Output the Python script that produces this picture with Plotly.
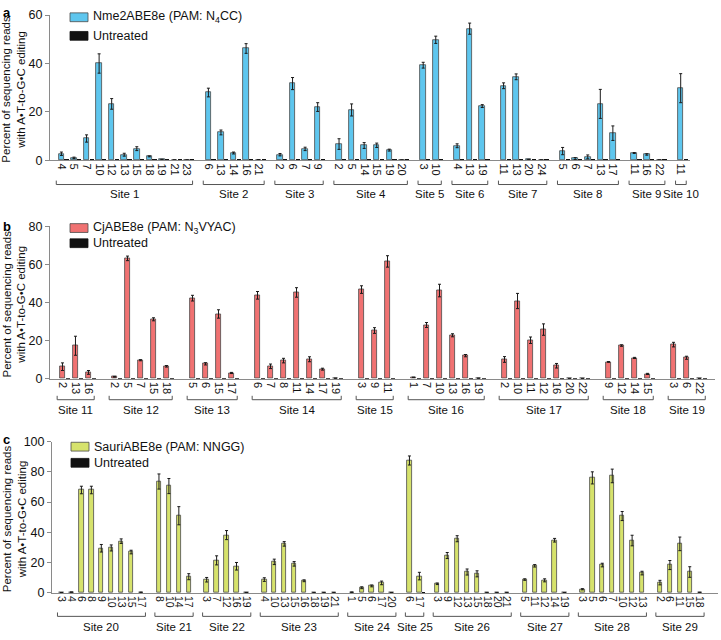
import plotly.graph_objects as go

# ---------------- panel a : Nme2ABE8e ----------------
a_sites = ["Site 1", "Site 2", "Site 3", "Site 4", "Site 5", "Site 6", "Site 7", "Site 8", "Site 9", "Site 10"]
a_pos = [[4, 5, 7, 10, 12, 13, 15, 18, 19, 21, 23], [6, 13, 14, 16, 21], [2, 6, 7, 9],
         [2, 5, 14, 15, 19, 20], [3, 10], [4, 13, 19], [11, 13, 20, 24], [5, 6, 7, 13, 17],
         [11, 16, 22], [11]]
a_edit = [[2.7, 1.0, 9.0, 40.0, 23.3, 2.3, 4.8, 1.6, 0.3, 0.1, 0.1], [28.0, 11.5, 3.0, 46.2, 0.2],
          [2.3, 31.7, 4.7, 22.0], [6.7, 20.8, 6.1, 6.2, 4.2, 0.1], [39.3, 49.8], [6.0, 54.4, 22.4],
          [30.8, 34.5, 0.3, 0.1], [3.8, 0.7, 1.4, 23.3, 11.2], [3.0, 2.4, 0.1], [29.8]]
a_err = [[0.7, 0.3, 1.5, 4.0, 2.2, 0.6, 0.8, 0.2, 0.1, 0.0, 0.0], [1.8, 1.0, 0.4, 2.0, 0.05],
         [0.5, 2.5, 0.7, 1.8], [2.2, 2.5, 1.2, 0.9, 0.4, 0.0], [1.2, 1.5], [0.8, 2.3, 0.6],
         [1.2, 1.2, 0.1, 0.0], [1.5, 0.4, 0.8, 6.0, 3.0], [0.2, 0.3, 0.0], [6.0]]
a_untr = [[0.1, 0.1, 0.1, 0.1, 0.1, 0.1, 0.1, 0.1, 0.1, 0.1, 0.1], [0.1, 0.1, 0.1, 0.1, 0.1],
          [0.1, 0.1, 0.1, 0.1], [0.1, 0.1, 0.1, 0.1, 0.1, 0.1], [0.1, 0.1], [0.6, 0.1, 0.1],
          [0.1, 0.1, 0.1, 0.1], [0.1, 0.1, 0.1, 0.1, 0.1], [0.1, 0.1, 0.1], [0.1]]

# ---------------- panel b : CjABE8e ----------------
b_sites = ["Site 11", "Site 12", "Site 13", "Site 14", "Site 15", "Site 16", "Site 17", "Site 18", "Site 19"]
b_pos = [[2, 13, 16], [2, 5, 7, 15, 18], [5, 6, 15, 17], [6, 7, 8, 11, 14, 17, 19], [3, 9, 11],
         [1, 7, 10, 13, 16, 19], [2, 10, 11, 12, 16, 20, 22], [9, 12, 14, 15], [3, 6, 22]]
b_edit = [[6.3, 17.3, 3.3], [1.0, 63.2, 9.7, 31.2, 6.5], [42.3, 7.8, 34.0, 3.0],
          [43.8, 6.5, 9.5, 45.3, 10.2, 5.0, 0.2], [46.8, 25.3, 61.6],
          [0.7, 28.2, 46.3, 22.8, 12.1, 0.2], [10.1, 40.8, 20.2, 25.8, 6.8, 0.1, 0.1],
          [8.8, 17.4, 10.9, 2.5], [17.9, 11.0, 0.1]]
b_err = [[2.0, 5.0, 1.0], [0.2, 1.2, 0.3, 0.8, 0.4], [1.5, 0.6, 2.2, 0.3],
         [2.0, 1.2, 1.2, 2.5, 1.3, 0.5, 0.1], [2.0, 1.5, 3.0], [0.1, 1.3, 3.3, 0.8, 0.6, 0.1],
         [1.5, 4.0, 1.7, 3.0, 1.2, 0.0, 0.0], [0.2, 0.4, 0.3, 0.3], [1.2, 0.8, 0.0]]
b_untr = [[0.1, 0.1, 0.1], [0.1, 0.1, 0.1, 0.1, 0.1], [0.1, 0.1, 0.1, 0.1],
          [0.1, 0.1, 0.1, 0.1, 0.1, 0.1, 0.1], [0.1, 0.1, 0.1], [0.1, 0.1, 0.1, 0.1, 0.1, 0.1],
          [0.1, 0.1, 0.1, 0.1, 0.1, 0.1, 0.1], [0.1, 0.1, 0.1, 0.1], [0.1, 0.1, 0.1]]

# ---------------- panel c : SauriABE8e ----------------
c_sites = ["Site 20", "Site 21", "Site 22", "Site 23", "Site 24", "Site 25", "Site 26", "Site 27", "Site 28", "Site 29"]
c_pos = [[3, 4, 6, 8, 9, 10, 13, 15, 17], [8, 10, 14, 17], [3, 7, 12, 16, 19],
         [4, 10, 13, 15, 16, 18, 19, 21], [1, 5, 6, 17, 20], [6, 17],
         [3, 9, 12, 13, 15, 18, 20, 21], [5, 11, 12, 14, 19], [3, 5, 6, 7, 10, 12, 13],
         [2, 6, 11, 15, 18]]
c_edit = [[0.2, 0.5, 68.0, 68.0, 29.5, 29.7, 34.2, 27.0, 0.3], [73.6, 70.6, 51.0, 10.7],
          [8.7, 21.5, 38.2, 17.6, 0.2], [8.8, 20.5, 32.4, 19.2, 8.0, 0.1, 0.1, 0.1],
          [0.4, 3.4, 4.6, 6.6, 0.1], [87.5, 11.1], [6.0, 24.7, 35.8, 13.8, 12.6, 0.1, 0.1, 0.1],
          [8.8, 17.9, 8.3, 34.8, 0.1], [2.4, 76.0, 18.4, 77.3, 50.8, 34.6, 13.1],
          [6.8, 18.4, 32.4, 13.8, 0.3]]
c_err = [[0.0, 0.1, 2.5, 2.5, 2.5, 2.0, 1.5, 1.2, 0.2], [5.0, 5.0, 6.0, 2.0], [1.5, 3.0, 3.0, 2.5, 0.1],
         [1.2, 1.8, 1.5, 1.5, 0.6, 0.0, 0.0, 0.0], [0.2, 0.6, 0.6, 1.2, 0.0], [3.0, 2.5],
         [0.5, 2.0, 2.0, 2.0, 2.0, 0.0, 0.0, 0.0], [0.5, 0.8, 1.0, 1.2, 0.0],
         [0.4, 4.0, 1.2, 4.5, 3.0, 3.5, 1.2], [1.5, 3.0, 4.5, 3.5, 0.1]]
c_untr = [[0.1] * 9, [0.1] * 4, [0.1] * 5, [0.1] * 8, [0.1] * 5, [0.1, 1.0], [0.1] * 8,
          [0.1] * 5, [0.1] * 7, [0.1] * 5]

W, H = 721, 640
FONT = "Liberation Sans, Arial, sans-serif"
OUTLINE = "#4a4a4a"


def px_x(p):
    return p / W


def px_y(p):
    return 1 - p / H


def flat(groups):
    return [v for g in groups for v in g]


def layout_positions(groups, gap):
    # numeric x position of every category, with an extra gap between sites
    xs, p = [], 0.0
    for g in groups:
        xs.append([p + i for i in range(len(g))])
        p += len(g) + gap
    return xs


panels = [
    dict(name="Nme2ABE8e (PAM: N<sub>4</sub>CC)", color="#5ec6ee", sites=a_sites, pos=a_pos,
         edit=a_edit, err=a_err, untr=a_untr, gap=0.7, xdom=(50, 690), xr=(-0.95, 50.0),
         ydom=(156.7, 8.3), yr=(0, 60), brk=181.5, lab=191.5, letter=6, leg=(10.5, 29.5), tick=11),
    dict(name="CjABE8e (PAM: N<sub>3</sub>VYAC)", color="#f07272", sites=b_sites, pos=b_pos,
         edit=b_edit, err=b_err, untr=b_untr, gap=1.0, xdom=(50, 715), xr=(-1.0, 50.15),
         ydom=(380, 224.3), yr=(0, 80), brk=401.5, lab=412, letter=224, leg=(226, 241.5), tick=11),
    dict(name="SauriABE8e (PAM: NNGG)", color="#d6e26c", sites=c_sites, pos=c_pos,
         edit=c_edit, err=c_err, untr=c_untr, gap=0.8, xdom=(52, 718), xr=(-1.0, 66.0),
         ydom=(599, 444.3), yr=(0, 100), brk=623, lab=633.5, letter=442, leg=(449.5, 466), tick=10.5),
]

fig = go.Figure()
shapes, annotations = [], []

for k, pn in enumerate(panels):
    n = "" if k == 0 else str(k + 1)
    xs = layout_positions(pn["pos"], pn["gap"])
    xflat = flat(xs)
    fig.add_trace(go.Bar(
        x=xflat, y=flat(pn["edit"]), name=pn["name"], xaxis="x" + n, yaxis="y" + n,
        offset=-0.26, width=0.44, marker=dict(color=pn["color"], line=dict(color=OUTLINE, width=0.8)),
        error_y=dict(type="data", array=flat(pn["err"]), color="#1a1a1a", thickness=1, width=1.5),
        showlegend=False))
    fig.add_trace(go.Bar(
        x=xflat, y=flat(pn["untr"]), name="Untreated", xaxis="x" + n, yaxis="y" + n,
        offset=0.2, width=0.34, marker=dict(color="#111111", line=dict(width=0)),
        showlegend=False))

    x0, x1 = pn["xdom"]
    ybot, ytop = pn["ydom"]
    fig.update_layout(**{
        "xaxis" + n: dict(domain=[px_x(x0), px_x(x1)], range=list(pn["xr"]),
                          anchor="y" + n, tickmode="array",
                          tickvals=[v - 0.04 for v in xflat],
                          ticktext=[str(p) for p in flat(pn["pos"])],
                          tickangle=90, tickfont=dict(size=pn["tick"], color="#111"),
                          showline=True, linecolor="#8a8a8a", linewidth=1,
                          ticks="", showgrid=False, zeroline=False, fixedrange=True),
        "yaxis" + n: dict(domain=[px_y(ybot), px_y(ytop)], range=list(pn["yr"]),
                          anchor="x" + n, dtick=20, tickfont=dict(size=12.5, color="#111"),
                          showline=True, linecolor="#8a8a8a", linewidth=1,
                          ticks="outside", ticklen=4, tickcolor="#8a8a8a",
                          showgrid=False, zeroline=False),
    })

    # legend drawn by hand: swatch + label
    lx = 70 if k < 2 else 71
    for yc, col, txt in zip(pn["leg"], [pn["color"], "#111111"], [pn["name"], "Untreated"]):
        shapes.append(dict(type="rect", xref="paper", yref="paper",
                           x0=px_x(lx), x1=px_x(lx + 18), y0=px_y(yc - 4.5), y1=px_y(yc + 4.5),
                           fillcolor=col, line=dict(color=OUTLINE if col != "#111111" else "#111", width=0.8)))
        annotations.append(dict(text=txt, xref="paper", yref="paper", x=px_x(lx + 21), y=px_y(yc),
                                showarrow=False, font=dict(size=12.5, color="#111"),
                                xanchor="left", yanchor="middle"))

    # site brackets and labels
    xref = "x" + n
    for site, g in zip(pn["sites"], xs):
        a, b = g[0] - 0.45, g[-1] + 0.4
        yb = px_y(pn["brk"])
        yt = px_y(pn["brk"] - 4)
        line = dict(color="#555", width=1)
        shapes.append(dict(type="line", xref=xref, yref="paper", x0=a, x1=b, y0=yb, y1=yb, line=line))
        shapes.append(dict(type="line", xref=xref, yref="paper", x0=a, x1=a, y0=yb, y1=yt, line=line))
        shapes.append(dict(type="line", xref=xref, yref="paper", x0=b, x1=b, y0=yb, y1=yt, line=line))
        annotations.append(dict(text=site, xref=xref, yref="paper", x=(a + b) / 2, y=px_y(pn["lab"]),
                                showarrow=False, font=dict(size=11.5, color="#111"),
                                xanchor="center", yanchor="middle"))

    # y-axis title
    annotations.append(dict(text="Percent of sequencing reads<br>with A•T-to-G•C editing",
                            xref="paper", yref="paper", x=px_x(14), y=px_y((ybot + ytop) / 2 + 2),
                            textangle=-90, showarrow=False, font=dict(size=11.5, color="#111"),
                            xanchor="center", yanchor="middle"))
    # panel letter
    annotations.append(dict(text="<b>" + "abc"[k] + "</b>", xref="paper", yref="paper",
                            x=px_x(1), y=px_y(pn["letter"]), showarrow=False,
                            font=dict(size=13, color="#000"), xanchor="left", yanchor="middle"))

fig.update_layout(
    width=W, height=H, margin=dict(l=0, r=0, t=0, b=0),
    paper_bgcolor="white", plot_bgcolor="white",
    font=dict(family=FONT, color="#111"),
    barmode="overlay", bargap=0, showlegend=False,
    shapes=shapes, annotations=annotations,
)

# pin the figure to the page's top-left corner (the default body margin shifts it by 8 px)
pin = ("document.body.style.margin='0';document.body.style.overflow='hidden';"
       "var d=document.getElementById('{plot_id}');d.style.position='fixed';"
       "d.style.left='0px';d.style.top='0px';")
fig.write_html("out.html", config={"displayModeBar": False}, post_script=pin)
